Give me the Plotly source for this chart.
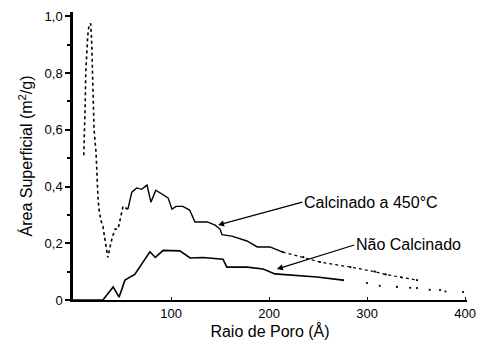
import plotly.graph_objects as go

# Calcinado a 450°C
calc_r = [11, 12, 12.5, 13, 14, 15, 16, 18, 19, 19.5,
          20, 20.5, 21.5, 23.5, 24.5, 25.5, 26.5, 28.5, 30.5, 32.5,
          35.5, 38, 40, 43, 46, 51, 56, 60, 65, 70,
          75.5, 79.5, 84.5, 89, 97, 101, 105, 112, 119, 124.5,
          137, 145, 150, 152, 162, 177.5, 188, 201, 214, 235,
          252, 283, 308, 319, 335, 351]
calc_a = [0.51, 0.60, 0.70, 0.80, 0.88, 0.93, 0.96, 0.975, 0.915, 0.845,
          0.75, 0.68, 0.60, 0.52, 0.42, 0.36, 0.32, 0.28, 0.26, 0.22,
          0.15, 0.19, 0.22, 0.25, 0.25, 0.33, 0.32, 0.38, 0.395, 0.39,
          0.405, 0.345, 0.387, 0.377, 0.36, 0.32, 0.33, 0.33, 0.317, 0.275,
          0.275, 0.264, 0.25, 0.23, 0.225, 0.208, 0.187, 0.187, 0.169, 0.151,
          0.134, 0.116, 0.10, 0.09, 0.08, 0.07]

# Não Calcinado
nc_r = [0, 30.5, 41, 47, 53, 63, 78.5, 84, 92, 109,
        119.5, 132.5, 153, 157, 177.5, 194, 206, 224.5, 249, 275.5,
        300, 313, 330.5, 344, 351, 364, 374.5, 380, 398]
nc_a = [0, 0, 0.046, 0.01, 0.07, 0.09, 0.17, 0.15, 0.175, 0.173,
        0.148, 0.15, 0.144, 0.116, 0.116, 0.109, 0.092, 0.088, 0.081, 0.07,
        0.06, 0.05, 0.046, 0.043, 0.042, 0.036, 0.035, 0.03, 0.028]

y_ticks = [0, 0.2, 0.4, 0.6, 0.8, 1.0]
y_tick_text = ["0", "0,2", "0,4", "0,6", "0,8", "1,0"]
x_ticks = [100, 200, 300, 400]

FONT = "Liberation Sans"
fig = go.Figure()

# calcined: dotted spike, solid middle, sparse dots tail
fig.add_trace(go.Scatter(x=calc_r[:27], y=calc_a[:27], mode="lines",
                         line=dict(color="black", width=1.6, dash="dot"), showlegend=False))
fig.add_trace(go.Scatter(x=calc_r[26:49], y=calc_a[26:49], mode="lines",
                         line=dict(color="black", width=1.4), showlegend=False))
fig.add_trace(go.Scatter(x=calc_r[48:], y=calc_a[48:], mode="lines+markers",
                         line=dict(color="black", width=1.2, dash="dot"),
                         marker=dict(color="black", size=2.2), showlegend=False))

# uncalcined
fig.add_trace(go.Scatter(x=nc_r[:20], y=nc_a[:20], mode="lines",
                         line=dict(color="black", width=1.6), showlegend=False))
fig.add_trace(go.Scatter(x=nc_r[19:], y=nc_a[19:], mode="markers",
                         marker=dict(color="black", size=2.2), showlegend=False))

fig.add_annotation(x=148, y=0.264, ax=234, ay=0.345, axref="x", ayref="y",
                   text="Calcinado a 450°C", xanchor="left", showarrow=True,
                   arrowhead=2, arrowsize=1, arrowwidth=1.2, arrowcolor="black",
                   font=dict(family=FONT, size=16, color="black"))
fig.add_annotation(x=208, y=0.109, ax=287, ay=0.194, axref="x", ayref="y",
                   text="Não Calcinado", xanchor="left", showarrow=True,
                   arrowhead=2, arrowsize=1, arrowwidth=1.2, arrowcolor="black",
                   font=dict(family=FONT, size=16, color="black"))

fig.update_layout(
    width=478, height=346,
    margin=dict(l=73, r=11, t=12, b=46),
    paper_bgcolor="white", plot_bgcolor="white",
    font=dict(family=FONT, size=13, color="black"),
)
fig.update_xaxes(range=[0, 402], tickvals=x_ticks, showgrid=False, zeroline=False,
                 automargin=False,
                 showline=True, linecolor="black", linewidth=2,
                 ticks="inside", ticklen=3, tickcolor="black",
                 title=dict(text="Raio de Poro (Å)", font=dict(size=16), standoff=6))
fig.update_yaxes(range=[0, 1.015], tickvals=y_ticks, ticktext=y_tick_text,
                 showgrid=False, zeroline=False, automargin=False,
                 showline=True, linecolor="black", linewidth=2.5,
                 ticks="outside", ticklen=5, tickcolor="black", tickwidth=1.5,
                 minor=dict(tickvals=[0.1, 0.3, 0.5, 0.7, 0.9], ticks="outside", ticklen=3,
                            tickcolor="black"),
                 title=dict(text="Área Superficial (m<sup>2</sup>/g)", font=dict(size=16), standoff=8))

fig.write_html("out.html")
